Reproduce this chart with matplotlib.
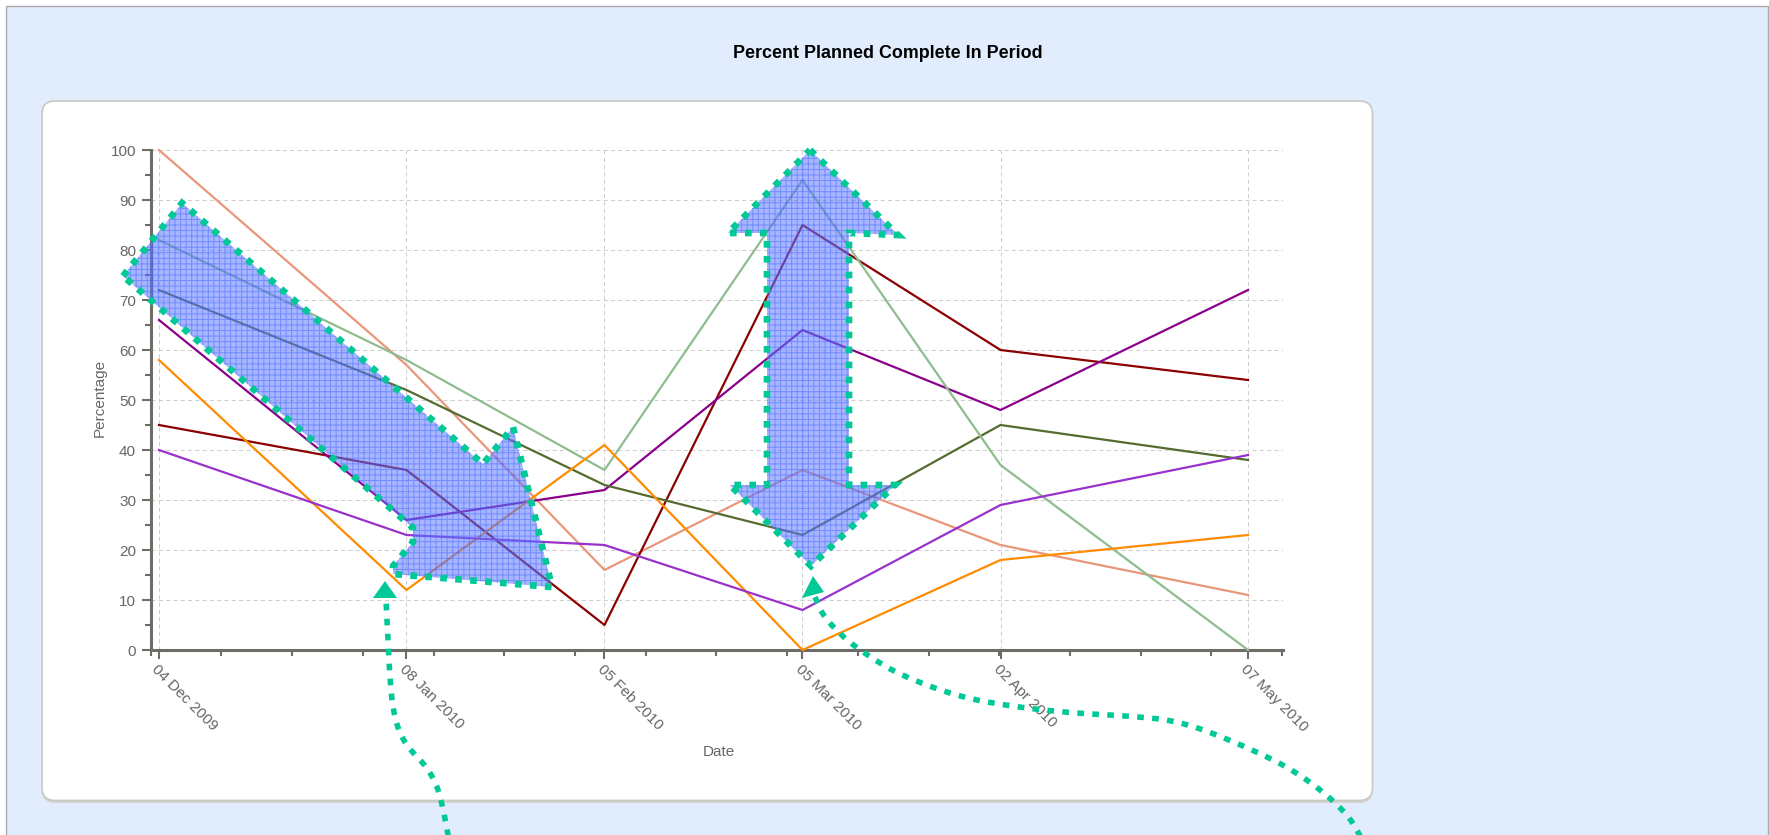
import datetime as dt
import matplotlib
matplotlib.use("Agg")
import matplotlib.pyplot as plt
import matplotlib.dates as mdates
from matplotlib.patches import Polygon, FancyBboxPatch, Rectangle
from matplotlib.ticker import MultipleLocator, FixedLocator

plt.rcParams['font.family'] = ['Liberation Sans', 'DejaVu Sans']
plt.rcParams['hatch.linewidth'] = 0.7

# data
dates = [dt.datetime(2009, 12, 4), dt.datetime(2010, 1, 8), dt.datetime(2010, 2, 5),
         dt.datetime(2010, 3, 5), dt.datetime(2010, 4, 2), dt.datetime(2010, 5, 7)]
date_labels = ["04 Dec 2009", "08 Jan 2010", "05 Feb 2010",
               "05 Mar 2010", "02 Apr 2010", "07 May 2010"]

salmon = [100, 57, 16, 36, 21, 11]
dark_red = [45, 36, 5, 85, 60, 54]
dark_magenta = [66, 26, 32, 64, 48, 72]
olive = [72, 52, 33, 23, 45, 38]
sea_green = [82, 58, 36, 94, 37, 0]
orange = [58, 12, 41, 0, 18, 23]
orchid = [40, 23, 21, 8, 29, 39]

series = [
    (salmon, '#e9967a'),
    (dark_red, '#8b0000'),
    (dark_magenta, '#8b008b'),
    (olive, '#556b2f'),
    (sea_green, '#8fbc8f'),
    (orange, '#ff8c00'),
    (orchid, '#9932cc'),
]

# overlay sketch shapes, in figure pixels (x right, y down)
diag_arrow = [(123, 276), (182, 203), (483, 464), (513, 427), (552, 587),
              (393, 574), (393, 566), (413, 542), (413, 528), (405, 521)]
vert_arrow = [(810, 150), (898, 235), (849, 233), (849, 485), (895, 485),
              (811, 566), (730, 485), (767, 485), (767, 233), (728, 233)]
curve_left = [(449, 840), (443, 808), (437, 785), (426, 766), (412, 752),
              (400, 735), (393, 710), (390, 680), (388, 640), (386, 600), (386, 596)]
head_left = [(385, 581), (373, 598), (397, 598)]
curve_right = [(815, 597), (823, 616), (845, 639), (870, 657), (900, 675),
               (959, 697), (1016, 707), (1072, 713), (1129, 716), (1180, 721),
               (1240, 744), (1298, 772), (1347, 812), (1365, 845)]
head_right = [(813, 576), (802, 598), (824, 592)]


def chaikin(pts, n=3):
    # corner cutting to round off a hand-drawn polyline
    for _ in range(n):
        out = [pts[0]]
        for (ax_, ay), (bx, by) in zip(pts[:-1], pts[1:]):
            out.append((0.75 * ax_ + 0.25 * bx, 0.75 * ay + 0.25 * by))
            out.append((0.25 * ax_ + 0.75 * bx, 0.25 * ay + 0.75 * by))
        out.append(pts[-1])
        pts = out
    return pts


W, H = 1769, 835
fig = plt.figure(figsize=(W / 100, H / 100), dpi=100)
fig.patch.set_facecolor('white')

bg = fig.add_axes([0, 0, 1, 1], zorder=0)
bg.set_xlim(0, W)
bg.set_ylim(H, 0)
bg.axis('off')
bg.add_patch(Rectangle((5.5, 5.5), W - 7, H + 10, facecolor='#e1ecfd',
                       edgecolor='#a9a9a9', lw=1))
bg.add_patch(FancyBboxPatch((42, 103), 1330.5, 700, boxstyle="round,pad=0,rounding_size=13",
                            facecolor='#d4d4d0', edgecolor='none'))
bg.add_patch(FancyBboxPatch((42, 101), 1330.5, 699.5, boxstyle="round,pad=0,rounding_size=13",
                            facecolor='white', edgecolor='#cbcbc6', lw=1.3))

# main chart
x0 = mdates.date2num(dates[0]) - 1.17
x1 = x0 + 160.16
ax = fig.add_axes([150.7 / W, (H - 650) / H, (1283.3 - 150.7) / W, 500 / H], zorder=1)
ax.patch.set_alpha(0)
xs = mdates.date2num(dates)
for vals, col in series:
    ax.plot(xs, vals, color=col, lw=1.6, clip_on=False, zorder=3)

ax.set_xlim(x0, x1)
ax.set_ylim(0, 100)
ax.xaxis.set_major_locator(FixedLocator(xs))
ax.set_xticklabels(date_labels)
ax.xaxis.set_minor_locator(FixedLocator([x0 + 10 * k for k in range(17)]))
ax.yaxis.set_major_locator(MultipleLocator(10))
ax.yaxis.set_minor_locator(MultipleLocator(5))

axis_col = '#6e6c66'
for s in ['top', 'right']:
    ax.spines[s].set_visible(False)
for s in ['left', 'bottom']:
    ax.spines[s].set_color(axis_col)
    ax.spines[s].set_linewidth(2.2)

ax.tick_params(which='major', length=6.5, width=1.5, color=axis_col,
               labelcolor='#666666', labelsize=11)
ax.tick_params(which='minor', length=4.3, width=1.5, color=axis_col)
ax.tick_params(axis='y', pad=4)
ax.tick_params(axis='x', pad=2)
plt.setp(ax.get_xticklabels(), rotation=-45, ha='left', va='top', rotation_mode='anchor')
ax.grid(which='major', color='#cfcfcf', linestyle=(0, (4, 3)), linewidth=0.75)
ax.set_axisbelow(True)

fig.text(888 / W, 1 - 53 / H, "Percent Planned Complete In Period",
         ha='center', va='center', fontsize=12.9, fontweight='bold', color='black')
fig.text(719 / W, 1 - 752 / H, "Date", ha='center', va='center', fontsize=11, color='#666666')
fig.text(100 / W, 1 - 398 / H, "Percentage", ha='center', va='center', rotation=90,
         fontsize=11, color='#666666')

# sketch overlay
ov = fig.add_axes([0, 0, 1, 1], zorder=5)
ov.set_xlim(0, W)
ov.set_ylim(H, 0)
ov.axis('off')
ov.patch.set_alpha(0)
green = '#00c896'
for shape in [diag_arrow, vert_arrow]:
    ov.add_patch(Polygon(shape, closed=True, facecolor=(0.38, 0.48, 1.0, 0.55), edgecolor='none'))
    ov.add_patch(Polygon(shape, closed=True, facecolor='none', edgecolor=(0.2, 0.35, 1.0, 0.45),
                         hatch='+++', lw=0))
    ov.add_patch(Polygon(shape, closed=True, facecolor='none', edgecolor=green,
                         lw=4.8, linestyle=(0, (1, 1.25))))
for pts, head in [(curve_left, head_left), (curve_right, head_right)]:
    smooth = chaikin(pts)
    ov.plot([p[0] for p in smooth], [p[1] for p in smooth], color=green, lw=4.0,
            linestyle=(0, (1.2, 1.5)), solid_capstyle='butt')
    ov.add_patch(Polygon(head, closed=True, facecolor=green, edgecolor='none'))

fig.savefig("out.png", dpi=100)
